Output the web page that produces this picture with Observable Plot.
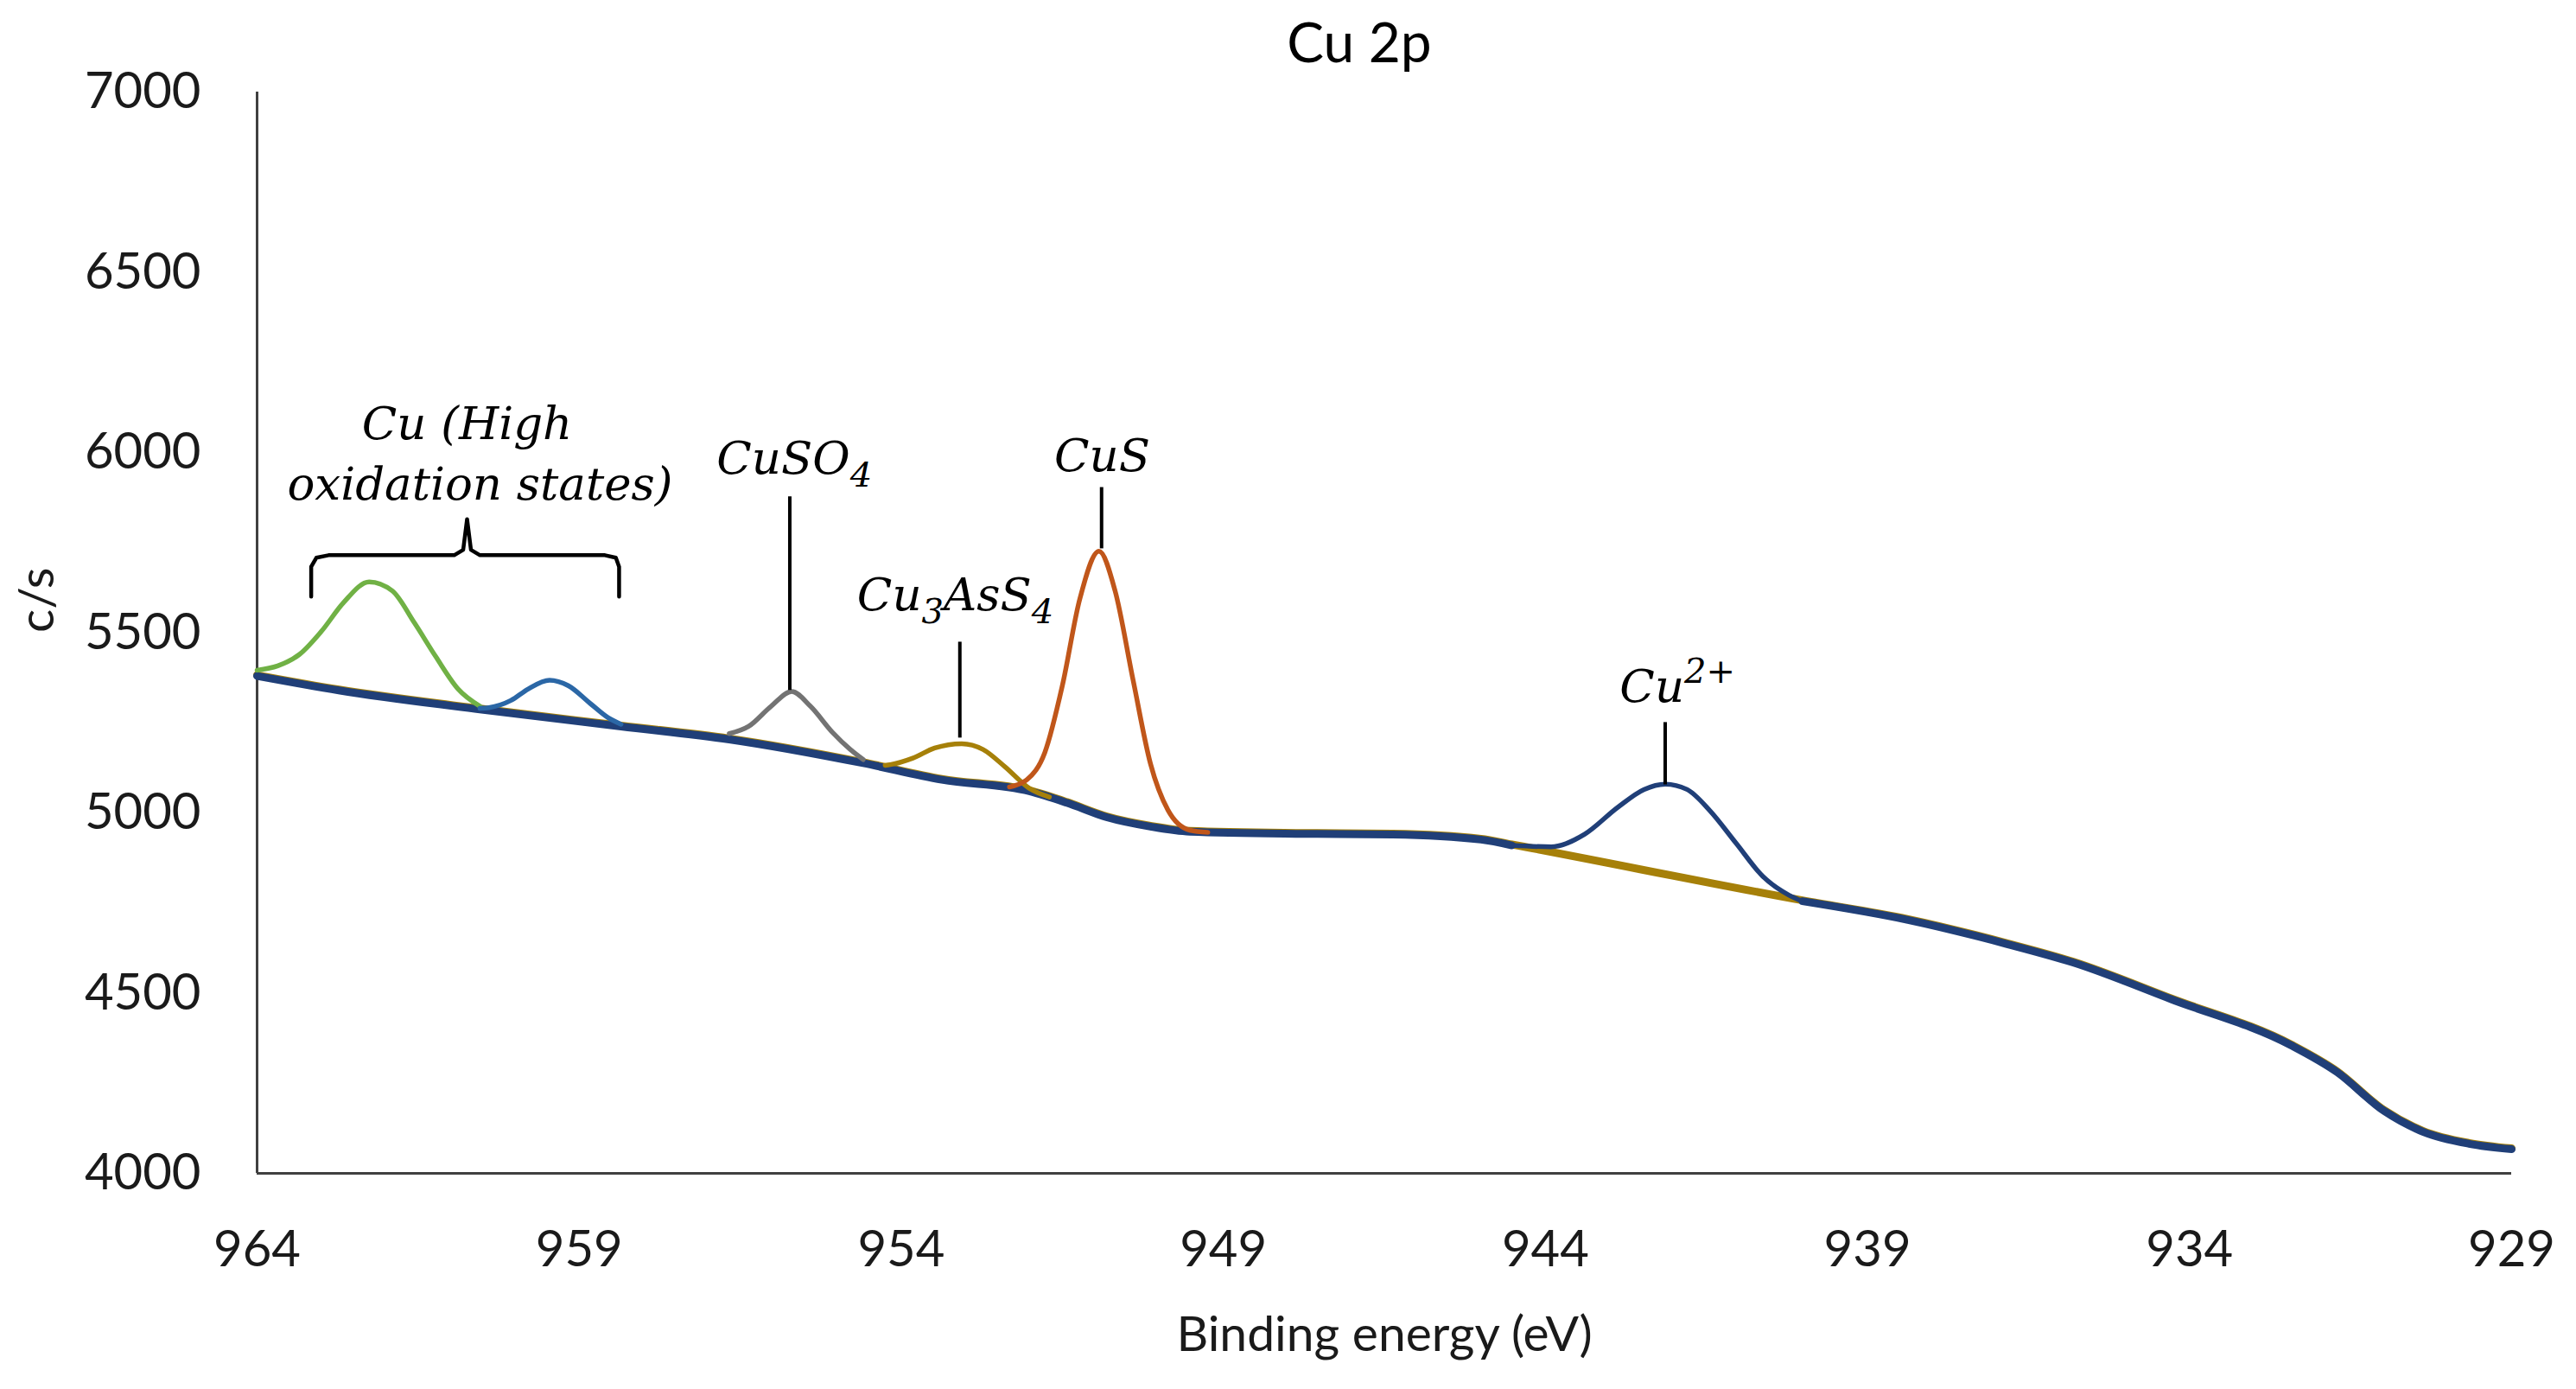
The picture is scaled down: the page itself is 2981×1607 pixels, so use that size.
<!DOCTYPE html>
<html>
<head>
<meta charset="utf-8">
<script src="https://cdn.jsdelivr.net/npm/d3@7"></script>
<script src="https://cdn.jsdelivr.net/npm/@observablehq/plot@0.6"></script>
<style>
  html, body { margin: 0; padding: 0; background: #fff; overflow: hidden; }
</style>
</head>
<body>
<div id="chart"></div>
<script>
// ---- Data ----
const xTicks = [964, 959, 954, 949, 944, 939, 934, 929];
const yTicks = [4000, 4500, 5000, 5500, 6000, 6500, 7000];

// background / envelope (thick line)
const bgEnergy = [964.0, 962.73, 960.54, 958.35, 956.67, 954.59, 953.37, 952.01, 951.43, 950.81, 950.13, 949.52, 947.74, 946.37, 945.0, 944.52, 940.01, 938.37, 936.83, 935.81, 934.27, 932.42, 931.71, 930.98, 930.37, 929.66, 929.0];
const bgCounts = [5380, 5340, 5287, 5240, 5204, 5138, 5092, 5060, 5028, 4988, 4962, 4948, 4942, 4940, 4926, 4910, 4755, 4703, 4636, 4585, 4482, 4355, 4281, 4173, 4115, 4082, 4067];

// Cu (high oxidation states) – first (green) peak
const greenEnergy = [964.0, 963.68, 963.34, 963.0, 962.66, 962.26, 961.90, 961.56, 961.22, 960.88, 960.54];
const greenCounts = [5396, 5408, 5440, 5504, 5583, 5641, 5616, 5528, 5432, 5344, 5296];

// Cu (high oxidation states) – second (blue) peak
const blueEnergy = [960.54, 960.40, 960.06, 959.79, 959.46, 959.17, 958.83, 958.55, 958.35];
const blueCounts = [5290, 5292, 5312, 5344, 5368, 5353, 5304, 5264, 5246];

// CuSO4 (grey)
const greyEnergy = [956.67, 956.37, 956.02, 955.70, 955.41, 955.07, 954.79, 954.59];
const greyCounts = [5220, 5240, 5296, 5337, 5296, 5224, 5176, 5148];

// Cu3AsS4 (gold)
const goldEnergy = [954.25, 954.17, 953.82, 953.48, 953.06, 952.73, 952.39, 952.01, 951.70];
const goldCounts = [5132, 5134, 5152, 5180, 5192, 5176, 5128, 5068, 5044];

// CuS (orange)
const orangeEnergy = [952.32, 952.05, 951.77, 951.50, 951.23, 950.93, 950.68, 950.40, 950.13, 949.86, 949.52, 949.24];
const orangeCounts = [5072, 5092, 5168, 5352, 5592, 5726, 5616, 5368, 5136, 5008, 4952, 4946];

// Cu2+ (navy)
const cu2Energy = [944.52, 943.91, 943.39, 942.88, 942.47, 942.14, 941.80, 941.45, 941.04, 940.63, 940.22, 940.01];
const cu2Counts = [4910, 4906, 4941, 5015, 5065, 5080, 5065, 5007, 4916, 4825, 4772, 4755];

// annotation labels (markup: _x subscript, ^{..} superscript)
const labelText   = ["Cu (High", "oxidation states)", "CuSO_4", "CuS", "Cu_3AsS_4", "Cu^{2+}"];
const labelEnergy = [960.74, 960.54, 955.66, 950.88, 953.16, 941.95];
const labelCounts = [6077, 5911, 5981, 5988, 5602, 5348];

// leader lines from labels to peaks
const leaderEnergy = [955.73, 950.89, 953.09, 942.14];
const leaderTop    = [5878, 5904, 5475, 5252];
const leaderBottom = [5341, 5734, 5209, 5079];

// curly bracket over the high-oxidation-state peaks
const braceEnergy = [963.16, 963.16, 963.08, 962.89, 960.94, 960.80, 960.74, 960.68, 960.54, 958.60, 958.43, 958.38, 958.38];
const braceCounts = [5600, 5683, 5708, 5715, 5715, 5730, 5815, 5730, 5715, 5715, 5708, 5683, 5600];

// ---- Build rows ----
const zip = (e, c) => e.map((v, i) => ({e: v, c: c[i]}));
const bg = zip(bgEnergy, bgCounts);
const navyBg = bg.filter(d => d.e >= 944.52 || d.e <= 940.01);
const labels = labelText.map((t, i) => ({t, e: labelEnergy[i], c: labelCounts[i]}));
const leaders = leaderEnergy.map((e, i) => ({e, c1: leaderTop[i], c2: leaderBottom[i]}));
const brace = zip(braceEnergy, braceCounts);

const peakW = 5.5;
const crv = "monotone-x";
const chart = Plot.plot({
  width: 2981,
  height: 1607,
  marginLeft: 297,
  marginRight: 75,
  marginTop: 106,
  marginBottom: 250,
  style: {fontFamily: "Lato, 'Open Sans', sans-serif", fontSize: "58px", background: "#fff", color: "#1a1a1a"},
  x: {domain: [964, 929], ticks: xTicks, tickFormat: d => String(d), tickSize: 0, tickPadding: 66, label: null},
  y: {domain: [4000, 7000], ticks: yTicks, tickFormat: d => String(d), tickSize: 0, tickPadding: 65, label: null},
  marks: [
    Plot.ruleX([964], {stroke: "#404040", strokeWidth: 3}),
    Plot.ruleY([4000], {stroke: "#404040", strokeWidth: 3}),
    Plot.line(bg, {x: "e", y: "c", stroke: "#a68009", strokeWidth: 9, curve: crv, dy: -1}),
    Plot.line(navyBg, {x: "e", y: "c", z: d => d.e >= 944.52 ? "hi" : "lo", stroke: "#203f78", strokeWidth: 9, curve: crv}),
    Plot.line(zip(greenEnergy, greenCounts), {x: "e", y: "c", stroke: "#70b145", strokeWidth: peakW, curve: crv}),
    Plot.line(zip(blueEnergy, blueCounts), {x: "e", y: "c", stroke: "#2b67a6", strokeWidth: peakW, curve: crv}),
    Plot.line(zip(greyEnergy, greyCounts), {x: "e", y: "c", stroke: "#737373", strokeWidth: peakW, curve: crv}),
    Plot.line(zip(goldEnergy, goldCounts), {x: "e", y: "c", stroke: "#a68009", strokeWidth: peakW, curve: crv}),
    Plot.line(zip(orangeEnergy, orangeCounts), {x: "e", y: "c", stroke: "#c0561a", strokeWidth: peakW, curve: crv}),
    Plot.line(zip(cu2Energy, cu2Counts), {x: "e", y: "c", stroke: "#203f78", strokeWidth: peakW, curve: crv}),
    Plot.link(leaders, {x1: "e", x2: "e", y1: "c1", y2: "c2", stroke: "#000", strokeWidth: 4}),
    Plot.line(brace, {x: "e", y: "c", stroke: "#000", strokeWidth: 4.5, curve: "linear", strokeLinejoin: "round"}),
    Plot.text(labels, {x: "e", y: "c", text: "t", fontFamily: "'DejaVu Serif', serif", fontStyle: "italic", fontSize: 53, fill: "#000", textAnchor: "middle"}),
    Plot.text(["Cu 2p"], {frameAnchor: "top", dx: -29, dy: -80, fontSize: 64, fill: "#000"}),
    Plot.text(["Binding energy (eV)"], {frameAnchor: "bottom", dy: 205, fontSize: 57, fill: "#1a1a1a"}),
    Plot.text(["c/s"], {frameAnchor: "left", y: [5500], dx: -254, rotate: -90, fontSize: 57, fill: "#1a1a1a"})
  ]
});

// turn _x / ^{..} markup into real sub/superscript tspans
chart.querySelectorAll("text").forEach(t => {
  const s = t.textContent;
  if (!/[_^]/.test(s) || t.querySelector("tspan")) return;
  const re = /([_^])\{([^}]*)\}|([_^])(.)|([^_^]+)/g;
  let m, shift = 0;
  t.textContent = "";
  while ((m = re.exec(s)) !== null) {
    const ts = document.createElementNS("http://www.w3.org/2000/svg", "tspan");
    if (m[5] !== undefined) {
      ts.textContent = m[5];
      if (shift) ts.setAttribute("dy", -shift);
      shift = 0;
    } else {
      const kind = m[1] || m[3];
      const txt = m[2] !== undefined ? m[2] : m[4];
      const target = kind === "_" ? 15 : -22;
      ts.textContent = txt;
      ts.setAttribute("font-size", "40");
      ts.setAttribute("dy", target - shift);
      shift = target;
    }
    t.appendChild(ts);
  }
});

document.getElementById("chart").appendChild(chart);
</script>
</body>
</html>
